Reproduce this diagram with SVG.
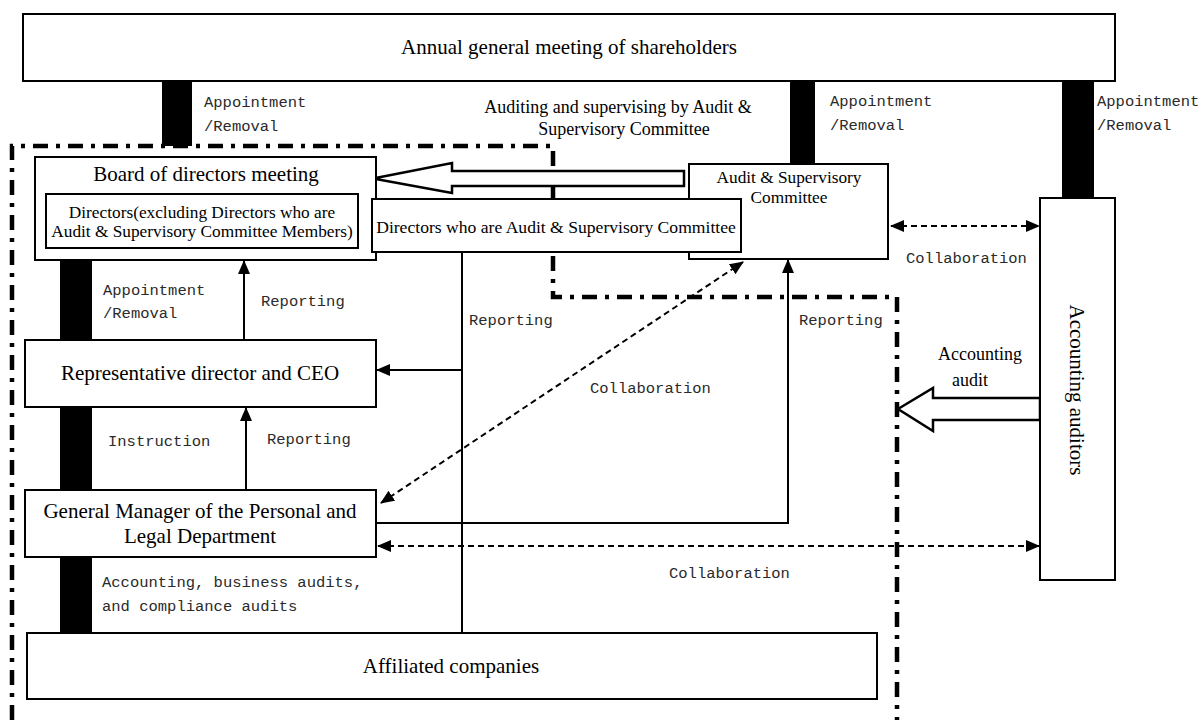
<svg xmlns="http://www.w3.org/2000/svg" width="1204" height="720" viewBox="0 0 1204 720">
<style>
.box{fill:#fff;stroke:#000;stroke-width:2}
.bar{fill:#000}
.serif{font-family:"Liberation Serif","Times New Roman",serif;fill:#000}
.mono{font-family:"Liberation Mono","Courier New",monospace;font-size:15.5px;fill:#2a2a2a}
.ln{fill:none;stroke:#000;stroke-width:2}
.dash{fill:none;stroke:#000;stroke-width:2;stroke-dasharray:6 4}
.dd{fill:none;stroke:#000;stroke-width:4.5;stroke-dasharray:15 8 4 8}
.hollow{fill:#fff;stroke:#000;stroke-width:2.5;stroke-linejoin:miter}
</style>
<defs>
<marker id="ah" markerUnits="userSpaceOnUse" markerWidth="14" markerHeight="12" refX="13" refY="6" orient="auto-start-reverse">
<path d="M0,0 L14,6 L0,12 Z" fill="#000"/>
</marker>
</defs>
<rect width="1204" height="720" fill="#fff"/>

<g id="connectors">
<path class="dd" d="M12,720 L12,146 L553,146 L553,297 L897,297 L897,720"/>
<rect class="bar" x="162" y="81" width="30" height="65"/>
<rect class="bar" x="790" y="81" width="25" height="82"/>
<rect class="bar" x="1062" y="81" width="32" height="117"/>
<rect class="bar" x="60" y="260" width="32" height="80"/>
<rect class="bar" x="60" y="407" width="32" height="83"/>
<rect class="bar" x="60" y="557" width="32" height="76"/>
<polygon class="hollow" points="684,171 452,171 452,163 373,178.5 452,193 452,186 684,186"/>
<polygon class="hollow" points="1040,398 933,398 933,388 898,409 933,431 933,420 1040,420"/>
<line class="ln" x1="244" y1="340" x2="244" y2="261" marker-end="url(#ah)"/>
<line class="ln" x1="246" y1="490" x2="246" y2="408" marker-end="url(#ah)"/>
<line class="ln" x1="462" y1="252" x2="462" y2="633"/>
<line class="ln" x1="462" y1="370" x2="377" y2="370" marker-end="url(#ah)"/>
<path class="ln" d="M376,523 L788,523 L788,260" marker-end="url(#ah)"/>
<line class="dash" x1="891" y1="226" x2="1039" y2="226" marker-start="url(#ah)" marker-end="url(#ah)"/>
<line class="dash" x1="381" y1="503" x2="743" y2="262" marker-start="url(#ah)" marker-end="url(#ah)"/>
<line class="dash" x1="378" y1="546" x2="1039" y2="546" marker-start="url(#ah)" marker-end="url(#ah)"/>
<text class="mono" x="204" y="107">Appointment</text>
<text class="mono" x="204" y="131">/Removal</text>
<text class="mono" x="830" y="106">Appointment</text>
<text class="mono" x="830" y="130">/Removal</text>
<text class="mono" x="1097" y="106">Appointment</text>
<text class="mono" x="1097" y="130">/Removal</text>
<text class="mono" x="103" y="295">Appointment</text>
<text class="mono" x="103" y="318">/Removal</text>
<text class="mono" x="261" y="306">Reporting</text>
<text class="mono" x="108" y="446">Instruction</text>
<text class="mono" x="267" y="444">Reporting</text>
<text class="mono" x="469" y="325">Reporting</text>
<text class="mono" x="799" y="325">Reporting</text>
<text class="mono" x="590" y="393">Collaboration</text>
<text class="mono" x="906" y="263">Collaboration</text>
<text class="mono" x="669" y="578">Collaboration</text>
<text class="mono" x="102" y="587">Accounting, business audits,</text>
<text class="mono" x="102" y="611">and compliance audits</text>
<text class="serif" font-size="18" text-anchor="middle" x="618" y="113">Auditing and supervising by Audit &amp;</text>
<text class="serif" font-size="18" text-anchor="middle" x="624" y="135">Supervisory Committee</text>
<text class="serif" font-size="18" text-anchor="middle" x="980" y="360">Accounting</text>
<text class="serif" font-size="18" text-anchor="middle" x="970" y="386">audit</text>
</g>

<g id="agm">
<rect class="box" x="23" y="14" width="1092" height="67"/>
<text class="serif" font-size="21" text-anchor="middle" x="569" y="54">Annual general meeting of shareholders</text>
</g>

<g id="board">
<rect class="box" x="35" y="157" width="341" height="103"/>
<text class="serif" font-size="21" text-anchor="middle" x="206" y="181">Board of directors meeting</text>
<rect class="box" x="46" y="194" width="312" height="54"/>
<text class="serif" font-size="17.3" text-anchor="middle" x="202" y="218">Directors(excluding Directors who are</text>
<text class="serif" font-size="17.3" text-anchor="middle" x="202" y="237">Audit &amp; Supervisory Committee Members)</text>
</g>

<g id="audit-committee">
<rect class="box" x="689" y="164" width="199" height="95"/>
<text class="serif" font-size="17.3" text-anchor="middle" x="789" y="183">Audit &amp; Supervisory</text>
<text class="serif" font-size="17.3" text-anchor="middle" x="789" y="203">Committee</text>
</g>

<g id="asc-directors">
<rect class="box" x="372" y="199" width="369" height="53"/>
<text class="serif" font-size="17.6" text-anchor="middle" x="556" y="233">Directors  who are Audit &amp; Supervisory Committee</text>
</g>

<g id="ceo">
<rect class="box" x="25" y="340" width="351" height="67"/>
<text class="serif" font-size="21" text-anchor="middle" x="200" y="380">Representative director and CEO</text>
</g>

<g id="gm">
<rect class="box" x="25" y="490" width="351" height="67"/>
<text class="serif" font-size="21" text-anchor="middle" x="200" y="518">General Manager of the Personal and</text>
<text class="serif" font-size="21" text-anchor="middle" x="200" y="543">Legal Department</text>
</g>

<g id="affiliated">
<rect class="box" x="27" y="633" width="850" height="66"/>
<text class="serif" font-size="21" text-anchor="middle" x="451" y="673">Affiliated companies</text>
</g>

<g id="accounting-auditors">
<rect class="box" x="1040" y="198" width="75" height="382"/>
<text class="serif" font-size="21" text-anchor="middle" transform="translate(1077,390) rotate(90)" y="7">Accounting auditors</text>
</g>
</svg>
